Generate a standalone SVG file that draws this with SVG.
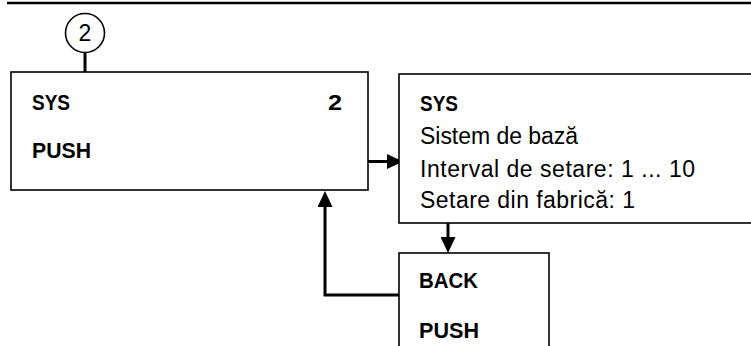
<svg xmlns="http://www.w3.org/2000/svg" width="751" height="346" viewBox="0 0 751 346">
<style>
.box{fill:#fff;stroke:#000;stroke-width:1.6}
.t{font-family:"Liberation Sans",Arial,sans-serif;font-size:23px;fill:#000}
.b{font-weight:bold;font-size:22px}
.c{fill:none;stroke:#000;stroke-width:3}
</style>
<defs>
<marker id="ah" markerUnits="userSpaceOnUse" markerWidth="16" markerHeight="15" refX="0" refY="7.5" orient="auto" viewBox="0 0 16 15">
<path d="M0,0 L16,7.5 L0,15 z" fill="#000"/>
</marker>
</defs>
<line x1="7" y1="3" x2="751" y2="3" stroke="#000" stroke-width="2.5"/>
<g id="badge">
<line x1="85" y1="52" x2="85" y2="72" stroke="#000" stroke-width="3"/>
<circle cx="85" cy="33" r="19.5" fill="#fff" stroke="#000" stroke-width="1.6"/>
<text class="t" x="85" y="40.5" text-anchor="middle" font-size="23">2</text>
</g>
<g id="connectors">
<line class="c" x1="368" y1="161.5" x2="387" y2="161.5" marker-end="url(#ah)"/>
<line class="c" x1="448" y1="223" x2="448" y2="237" marker-end="url(#ah)"/>
<polyline class="c" points="399,295 325,295 325,207" marker-end="url(#ah)"/>
</g>
<g id="node-sys">
<rect class="box" x="11" y="72" width="357" height="118"/>
<text class="t b" x="32" y="110" textLength="38" lengthAdjust="spacingAndGlyphs">SYS</text>
<text class="t b" x="328" y="110" textLength="14" lengthAdjust="spacingAndGlyphs">2</text>
<text class="t b" x="32" y="158" textLength="59" lengthAdjust="spacingAndGlyphs">PUSH</text>
</g>
<g id="node-info">
<rect class="box" x="399" y="74" width="360" height="149"/>
<text class="t b" x="420" y="110.5" textLength="38" lengthAdjust="spacingAndGlyphs">SYS</text>
<text class="t" x="420" y="144" textLength="158">Sistem de bază</text>
<text class="t" x="420" y="177" textLength="275">Interval de setare: 1 ... 10</text>
<text class="t" x="420" y="207.5" textLength="215">Setare din fabrică: 1</text>
</g>
<g id="node-back">
<rect class="box" x="399" y="253" width="150" height="110"/>
<text class="t b" x="419" y="288" textLength="59" lengthAdjust="spacingAndGlyphs">BACK</text>
<text class="t b" x="419" y="338" textLength="60" lengthAdjust="spacingAndGlyphs">PUSH</text>
</g>
</svg>
